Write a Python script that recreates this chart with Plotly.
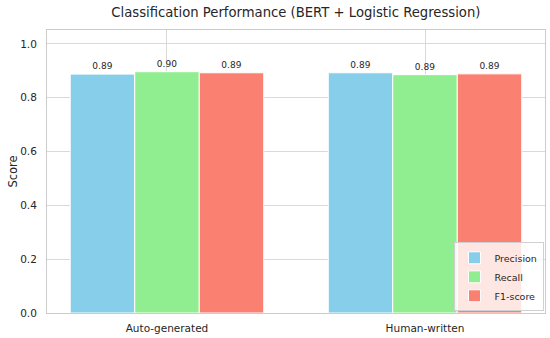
import plotly.graph_objects as go

categories = ["Auto-generated", "Human-written"]
precision = [0.888, 0.893]
recall = [0.897, 0.886]
f1 = [0.893, 0.889]
series_names = ["Precision", "Recall", "F1-score"]
colors = ["#87CEEB", "#90EE90", "#FA8072"]

FONT = "DejaVu Sans"
fig = go.Figure()
for name, vals, c in zip(series_names, [precision, recall, f1], colors):
    fig.add_trace(go.Bar(
        x=categories, y=vals, name=name,
        marker=dict(color=c, line=dict(color="white", width=1)),
        texttemplate="%{y:.2f}", textposition="outside",
        textfont=dict(size=9, color="#262626", family=FONT),
        cliponaxis=False,
    ))

fig.update_layout(
    width=550, height=338,
    barmode="group", bargap=0.25, bargroupgap=0,
    margin=dict(l=47, r=5, t=30, b=25, autoexpand=False),
    paper_bgcolor="white", plot_bgcolor="white",
    font=dict(family=FONT, size=10.5, color="#262626"),
    title=dict(text="Classification Performance (BERT + Logistic Regression)",
               x=0.538, xanchor="center", y=0.962, yanchor="middle",
               font=dict(size=13.2, color="#262626")),
    legend=dict(x=0.997, xanchor="right", y=0.006, yanchor="bottom",
                bgcolor="rgba(255,255,255,0.8)", bordercolor="#d0d0d0", borderwidth=1,
                font=dict(size=9.5), tracegroupgap=0),
    xaxis=dict(range=[-0.465, 1.465], showgrid=True, gridcolor="#d9d9d9",
               showline=True, linecolor="#cccccc", mirror=True, ticks="",
               tickfont=dict(size=10.5), automargin=False, ticklabelstandoff=5),
    yaxis=dict(range=[0, 1.052], tickvals=[0, 0.2, 0.4, 0.6, 0.8, 1.0],
               tickformat=".1f", showgrid=True, gridcolor="#d9d9d9",
               showline=True, linecolor="#cccccc", mirror=True, zeroline=False,
               title=dict(text="Score", font=dict(size=11.5), standoff=0),
               tickfont=dict(size=10.5), automargin=False, ticklabelstandoff=7),
)
fig.write_html("out.html", config={"displayModeBar": False},
               post_script="document.body.style.margin='0';document.body.style.overflow='hidden';")
